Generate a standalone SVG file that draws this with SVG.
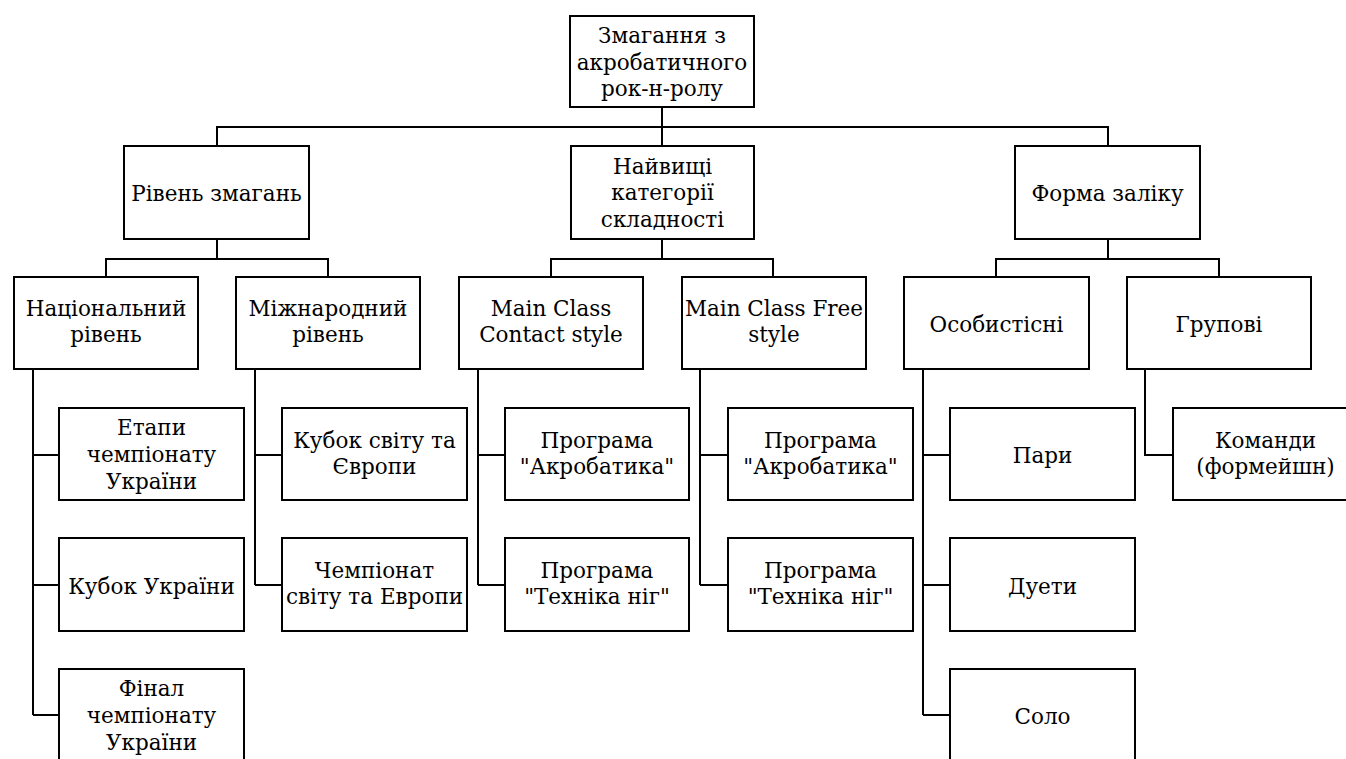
<svg xmlns="http://www.w3.org/2000/svg" width="1346" height="759" viewBox="0 0 1346 759">
<style>
rect{fill:#fff;stroke:#000;stroke-width:2}
text{font-family:"DejaVu Serif","Liberation Serif",serif;font-size:21.5px;fill:#000;text-anchor:middle}
.c{fill:none;stroke:#000;stroke-width:2}
</style>
<rect x="0" y="0" width="1346" height="759" style="stroke:none"/>
<g id="connectors">
<path class="c" d="M662,107V127M217,146V127H1108V146M662,127V146"/>
<path class="c" d="M217,239V259M106,277V259H328V277"/>
<path class="c" d="M662,239V259M551,277V259H773V277"/>
<path class="c" d="M1108,239V259M996,277V259H1219V277"/>
<path class="c" d="M33,369V715M33,455H59M33,585H59M33,715H59"/>
<path class="c" d="M255,369V585M255,455H282M255,585H282"/>
<path class="c" d="M478,369V585M478,455H505M478,585H505"/>
<path class="c" d="M700,369V585M700,455H728M700,585H728"/>
<path class="c" d="M923,369V715M923,455H950M923,585H950M923,715H950"/>
<path class="c" d="M1145,369V455H1173"/>
</g>
<g id="root"><rect x="570" y="16" width="184" height="91"/><text x="662" y="43">Змагання з</text><text x="662" y="69.5">акробатичного</text><text x="662" y="96">рок-н-ролу</text></g>
<g id="level"><rect x="124" y="146" width="185" height="93"/><text x="216.5" y="201">Рівень змагань</text></g>
<g id="categories"><rect x="571" y="146" width="183" height="93"/><text x="662.5" y="173.5">Найвищі</text><text x="662.5" y="200">категорії</text><text x="662.5" y="226.5">складності</text></g>
<g id="form"><rect x="1015" y="146" width="185" height="93"/><text x="1107.5" y="201">Форма заліку</text></g>
<g id="national"><rect x="14" y="277" width="184" height="92"/><text x="106" y="315.5">Національний</text><text x="106" y="341.5">рівень</text></g>
<g id="international"><rect x="236" y="277" width="184" height="92"/><text x="328" y="315.5">Міжнародний</text><text x="328" y="341.5">рівень</text></g>
<g id="contact"><rect x="459" y="277" width="184" height="92"/><text x="551" y="315.5">Main Class</text><text x="551" y="341.5">Contact style</text></g>
<g id="free"><rect x="682" y="277" width="184" height="92"/><text x="774" y="315.5">Main Class Free</text><text x="774" y="341.5">style</text></g>
<g id="individual"><rect x="904" y="277" width="185" height="92"/><text x="996.5" y="331.5">Особистісні</text></g>
<g id="group"><rect x="1127" y="277" width="184" height="92"/><text x="1219" y="331.5">Групові</text></g>
<g id="stages"><rect x="59" y="408" width="185" height="92"/><text x="151.5" y="435">Етапи</text><text x="151.5" y="462">чемпіонату</text><text x="151.5" y="489">України</text></g>
<g id="cup"><rect x="59" y="538" width="185" height="93"/><text x="151.5" y="593.5">Кубок України</text></g>
<g id="final"><rect x="59" y="669" width="185" height="92"/><text x="151.5" y="696">Фінал</text><text x="151.5" y="723">чемпіонату</text><text x="151.5" y="750">України</text></g>
<g id="worldcup"><rect x="282" y="408" width="185" height="92"/><text x="374.5" y="448">Кубок світу та</text><text x="374.5" y="474">Європи</text></g>
<g id="worldchamp"><rect x="282" y="538" width="185" height="93"/><text x="374.5" y="578">Чемпіонат</text><text x="374.5" y="604">світу та Европи</text></g>
<g id="c-acro"><rect x="505" y="408" width="184" height="92"/><text x="597" y="448">Програма</text><text x="597" y="474">"Акробатика"</text></g>
<g id="c-feet"><rect x="505" y="538" width="184" height="93"/><text x="597" y="578">Програма</text><text x="597" y="604">"Техніка ніг"</text></g>
<g id="f-acro"><rect x="728" y="408" width="185" height="92"/><text x="820.5" y="448">Програма</text><text x="820.5" y="474">"Акробатика"</text></g>
<g id="f-feet"><rect x="728" y="538" width="185" height="93"/><text x="820.5" y="578">Програма</text><text x="820.5" y="604">"Техніка ніг"</text></g>
<g id="pairs"><rect x="950" y="408" width="185" height="92"/><text x="1042.5" y="462.5">Пари</text></g>
<g id="duets"><rect x="950" y="538" width="185" height="93"/><text x="1042.5" y="593.5">Дуети</text></g>
<g id="solo"><rect x="950" y="669" width="185" height="92"/><text x="1042.5" y="723.5">Соло</text></g>
<g id="teams"><rect x="1173" y="408" width="185" height="92"/><text x="1265.5" y="448">Команди</text><text x="1265.5" y="474">(формейшн)</text></g>
</svg>
